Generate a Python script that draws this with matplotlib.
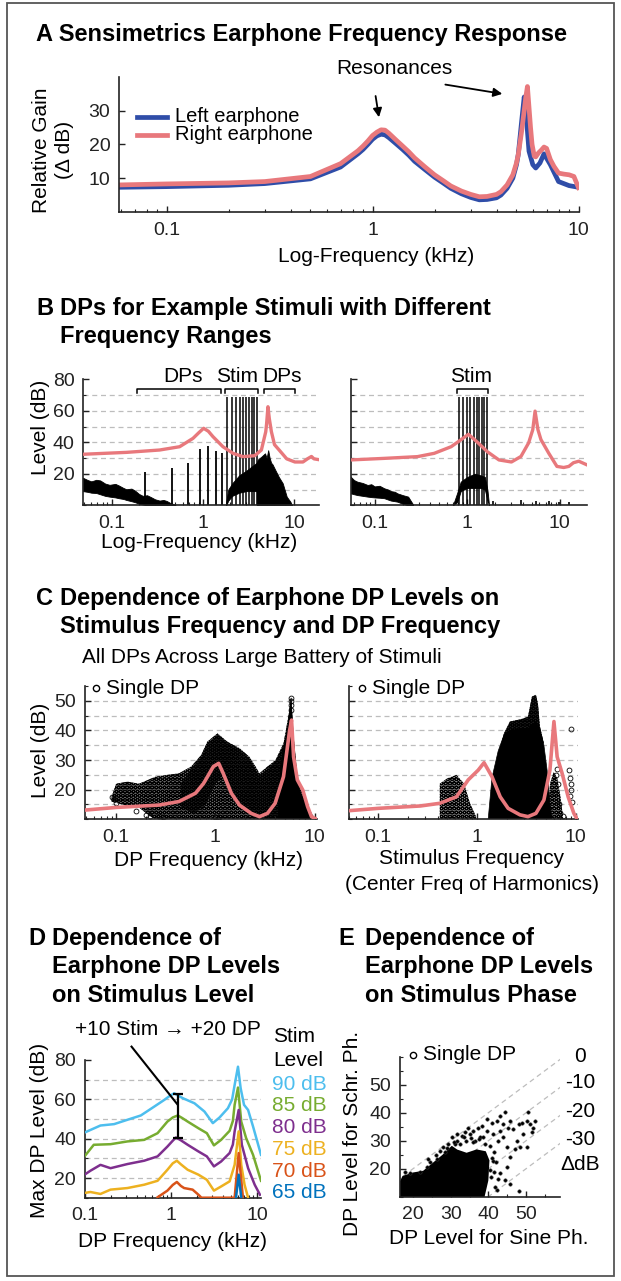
import numpy as np
import matplotlib
matplotlib.use("Agg")
import matplotlib.pyplot as plt
from matplotlib.lines import Line2D
from matplotlib.patches import Rectangle
from matplotlib.ticker import FixedLocator, LogLocator, NullFormatter, MultipleLocator

plt.rcParams['font.family'] = ['Liberation Sans', 'DejaVu Sans']
plt.rcParams['hatch.linewidth'] = 0.7

# ---------------- data ----------------
# A: earphone frequency response (kHz, relative gain dB)
a_left_freq = [0.0586, 0.1, 0.2, 0.3, 0.5, 0.7, 0.85, 0.9, 0.95, 1.0, 1.05, 1.1, 1.15, 1.2,
               1.3, 1.4, 1.5, 1.6, 1.8, 2.0, 2.2, 2.4, 2.7, 3.0, 3.3, 3.6, 4.0, 4.2, 4.5,
               4.8, 5.0, 5.1, 5.2, 5.3, 5.45, 5.55, 5.75, 6.0, 6.2, 6.5, 6.8, 7.3, 8.0,
               9.0, 10.0]
a_left_gain = [7.3, 7.5, 7.9, 8.4, 9.8, 13.3, 17.2, 18.5, 20.0, 21.5, 22.5, 23.0, 22.8, 22.0,
               20.2, 18.5, 16.8, 15.0, 12.5, 10.3, 8.6, 7.0, 5.4, 4.3, 3.6, 3.7, 4.2, 5.0, 7.0,
               10.0, 14.0, 17.0, 22.0, 27.0, 34.0, 30.0, 18.0, 14.0, 13.0, 14.5, 17.2, 14.0,
               9.0, 7.8, 7.3]
a_right_freq = [0.0586, 0.1, 0.2, 0.3, 0.5, 0.7, 0.85, 0.9, 0.95, 1.0, 1.05, 1.1, 1.15, 1.2,
                1.3, 1.4, 1.5, 1.6, 1.8, 2.0, 2.2, 2.4, 2.7, 3.0, 3.3, 3.6, 4.0, 4.2, 4.5,
                4.8, 5.0, 5.1, 5.3, 5.4, 5.55, 5.65, 5.75, 5.85, 5.95, 6.1, 6.2, 6.4, 6.6,
                6.8, 7.0, 7.3, 7.6, 8.0, 8.5, 9.0, 9.5, 10.0]
a_right_gain = [8.0, 8.3, 8.6, 9.0, 10.5, 14.3, 18.1, 19.5, 21.0, 22.6, 23.6, 24.3, 24.2, 23.3,
                21.3, 19.5, 17.8, 16.0, 13.3, 11.0, 9.3, 7.7, 6.2, 5.2, 4.5, 4.6, 5.2, 6.0, 8.0,
                11.0, 14.5, 17.0, 24.0, 28.0, 34.0, 37.1, 31.0, 25.0, 20.0, 16.5, 16.3, 17.5,
                18.3, 19.2, 18.8, 15.5, 13.5, 11.5, 11.2, 11.0, 10.5, 7.2]

# B left: stimulus with harmonics 1.84-3.91 kHz
bl_pink_freq = [0.0485, 0.145, 0.336, 0.557, 0.78, 0.9, 1.02, 1.15, 1.29, 1.66, 2.14, 2.75,
                3.7, 4.38, 4.89, 5.0, 5.17, 5.35, 5.64, 6.1, 7.0, 8.3, 10.2, 12.5, 14.0, 15.5,
                16.5, 18.6]
bl_pink_level = [32.4, 33.6, 35.1, 37.2, 42.5, 46.0, 48.9, 47.0, 43.6, 37.2, 33.0, 30.9,
                 31.5, 35.1, 46.7, 52.0, 62.6, 55.0, 46.7, 38.5, 34.5, 29.5, 27.5, 27.5, 29.5,
                 31.0, 29.5, 29.0]
bl_noise_freq = [0.0485, 0.055, 0.06, 0.068, 0.075, 0.085, 0.095, 0.11, 0.12, 0.135, 0.145,
                 0.165, 0.18, 0.2, 0.22, 0.245, 0.27, 0.3, 0.336, 0.37, 0.4, 0.44, 0.5]
bl_noise_hi = [17.5, 16.0, 15.2, 16.2, 15.8, 13.8, 13.0, 13.6, 12.6, 11.0, 10.2, 10.6, 9.4,
               7.2, 6.0, 6.4, 5.2, 3.8, 3.0, 3.4, 2.8, 1.5, 0.3]
bl_noise_lo = [9.0, 8.5, 8.0, 7.8, 7.0, 6.0, 5.5, 5.0, 4.5, 4.0, 3.4, 2.6, 2.0, 1.0, 0.5, 0,
               0, 0, 0, 0, 0, 0, 0]
bl_dp_freq = [0.23, 0.46, 0.69, 0.92, 1.15, 1.38, 1.61]
bl_dp_level = [21.3, 23.9, 26.7, 35.6, 37.7, 34.5, 33.4]
bl_stim_freq = [1.84, 2.07, 2.30, 2.53, 2.76, 2.99, 3.22, 3.45, 3.68, 3.91]
bl_stim_level = [69] * 10
bl_band_freq = [1.8, 1.9, 2.1, 2.5, 3.0, 3.5, 3.9, 4.0]
bl_band_hi = [2, 10, 14, 19, 22, 25, 27, 20]
bl_band_lo = [0, 3, 6, 8, 9, 9, 9, 0]
bl_dpband_freq = [3.9, 4.0, 4.4, 4.8, 5.0, 5.2, 5.4, 5.6, 5.8, 6.2, 6.8, 7.5, 8.3, 9.1, 9.5]
bl_dpband_hi = [27, 29, 31, 33, 30, 35, 30, 27, 26, 22.6, 18, 14, 5.5, 2.3, 0]
bl_brackets = [(0.19, 1.6), (1.77, 4.0), (4.66, 10.3)]
bl_bracket_labels = ['DPs', 'Stim', 'DPs']
bl_bracket_label_x = [0.6, 2.4, 7.3]

# B right: stimulus with harmonics 0.81-1.62 kHz
br_pink_freq = [0.055, 0.127, 0.29, 0.44, 0.67, 0.85, 1.03, 1.29, 1.65, 2.2, 3.0, 3.8, 4.6,
                5.1, 5.4, 5.8, 6.25, 7.6, 9.3, 11.0, 12.5, 14.0, 16.0, 19.4]
br_pink_level = [28.8, 29.8, 30.9, 33.0, 37.2, 41.5, 45.1, 40.0, 34.0, 28.8, 27.5, 31.0, 39.6,
                 48.0, 59.8, 48.0, 41.7, 33.0, 24.7, 24.0, 24.7, 27.0, 28.0, 25.8]
br_noise_freq = [0.055, 0.06, 0.065, 0.074, 0.084, 0.092, 0.1, 0.113, 0.127, 0.14, 0.15,
                 0.165, 0.176, 0.2, 0.23, 0.26]
br_noise_hi = [18.2, 16.0, 15.0, 14.2, 12.9, 13.4, 12.0, 12.4, 10.8, 10.0, 9.0, 8.6, 7.6, 6.5,
               5.5, 0.5]
br_noise_lo = [7.6, 7.0, 6.5, 6.0, 5.5, 5.2, 5.0, 4.8, 4.5, 3.6, 3.0, 2.6, 2.3, 1.0, 0, 0]
br_stim_freq = [0.81, 0.90, 0.99, 1.08, 1.17, 1.26, 1.35, 1.44, 1.53, 1.62]
br_stim_level = [69] * 10
br_band_freq = [0.70, 0.78, 0.85, 1.0, 1.2, 1.4, 1.55, 1.65, 1.72]
br_band_hi = [0, 8, 15, 18, 20, 19, 18, 10, 0]
br_band_lo = [0, 2, 9, 11, 11, 11, 10, 3, 0]
br_blip_freq = [1.9, 3.8, 5.5, 7.6, 9.8, 12.5]
br_blip_level = [3.0, 3.5, 2.5, 2.5, 2.0, 2.0]
br_bracket = (0.766, 1.69)

# C left: all DPs vs DP frequency
cl_pink_freq = [0.048, 0.1, 0.27, 0.43, 0.63, 0.76, 0.954, 1.08, 1.2, 1.45, 1.75, 2.3, 2.78,
                3.35, 4.0, 4.86, 5.6, 5.86, 6.14, 6.7, 7.6, 8.5, 9.3, 10.5]
cl_pink_level = [13.1, 14.0, 14.8, 16.0, 18.8, 22.1, 27.8, 28.9, 25.5, 18.8, 14.8, 12.0, 10.9,
                 12.0, 15.4, 24.4, 40.0, 43.5, 31.1, 23.3, 19.9, 14.3, 10.9, 10.0]
cl_cloud_f = [0.09, 0.1, 0.13, 0.17, 0.25, 0.33, 0.43, 0.57, 0.72, 0.83, 1.05, 1.32, 1.75, 2.2,
              2.54, 2.78, 3.35, 4.04, 4.86, 5.59, 5.8, 6.14, 6.73, 7.74, 9.33, 10.2,
              0.25, 0.22, 0.17, 0.13, 0.09]
cl_cloud_db = [17.6, 22.0, 22.7, 22.0, 24.4, 25.0, 25.5, 27.8, 31.7, 36.2, 39.0, 36.2, 34.0, 31.1,
               27.8, 25.5, 27.8, 30.0, 35.6, 46.9, 51.0, 37.9, 23.3, 17.6, 12.0, 10.0,
               10.0, 11.0, 14.0, 14.5, 16.0]
cl_dense_f = [0.45, 0.57, 0.72, 0.83, 1.05, 1.32, 1.75, 2.2, 2.5, 2.8, 3.35, 4.04, 4.86,
              5.0, 2.6, 2.0, 1.5, 1.2, 1.0, 0.8, 0.6, 0.45]
cl_dense_db = [22.0, 27.0, 31.0, 35.5, 38.5, 35.8, 33.5, 30.5, 27.0, 24.5, 27.0, 29.5, 35.0,
               10.0, 10.0, 14.0, 18.0, 25.0, 22.0, 15.0, 12.0, 14.0]
cl_solid_f = [4.3, 4.5, 4.86, 5.3, 5.59, 5.8, 6.0, 6.14, 6.73, 7.2, 7.74, 8.5, 9.33, 10.0]
cl_solid_db = [10.0, 27.0, 34.0, 40.0, 46.5, 51.0, 42.0, 37.0, 23.0, 19.0, 17.0, 14.0, 11.5, 10.0]
cl_out_f = [0.09, 0.095, 0.1, 0.16, 0.2, 0.22, 0.27, 0.3, 1.0, 1.1, 5.8, 5.8, 5.8, 5.8]
cl_out_db = [17.5, 16.8, 15.5, 12.8, 11.5, 11.0, 11.2, 10.8, 10.8, 10.8, 47.0, 48.5, 49.8, 51.0]

# C right: all DPs vs stimulus centre frequency
cr_pink_freq = [0.05, 0.1, 0.267, 0.42, 0.62, 0.815, 1.03, 1.18, 1.42, 1.72, 2.07, 2.73, 3.29,
                3.96, 4.77, 5.49, 6.03, 6.5, 7.3, 8.4, 9.6, 10.2]
cr_pink_level = [12.9, 13.7, 14.5, 15.4, 17.6, 23.3, 26.6, 29.1, 24.4, 17.6, 13.7, 11.5, 10.9,
                 12.0, 16.5, 26.6, 43.0, 31.1, 25.5, 17.6, 12.0, 10.5]
cr_low_f = [0.42, 0.5, 0.62, 0.74, 0.85, 0.98, 0.98, 0.42]
cr_low_db = [22.0, 23.8, 25.0, 22.0, 15.4, 10.9, 10.0, 10.0]
cr_main_f = [1.3, 1.42, 1.64, 1.88, 2.16, 2.73, 3.29, 3.6, 3.96, 4.35, 4.77, 5.14, 5.49, 5.75]
cr_main_db = [10.0, 24.0, 33.0, 38.5, 40.0, 40.5, 40.5, 42.0, 43.0, 40.0, 35.0, 26.6, 15.4, 10.0]
cr_fringe_f = [1.75, 1.88, 2.16, 2.73, 3.29, 3.61, 3.96, 4.15, 4.35, 4.77, 3.0, 2.0]
cr_fringe_db = [35.0, 39.0, 43.0, 43.7, 44.6, 51.4, 52.0, 49.0, 41.3, 35.6, 38.0, 35.0]
cr_tail_f = [5.2, 5.5, 6.0, 6.5, 7.0, 7.5]
cr_tail_db = [10.0, 22.0, 26.0, 24.0, 18.0, 10.0]
cr_out_f = [6.3, 6.6, 6.1, 6.8, 7.0, 8.6, 8.8, 8.9, 9.0, 8.7, 9.1, 8.9, 7.5, 6.5]
cr_out_db = [25.0, 22.0, 19.0, 15.0, 12.0, 26.5, 24.0, 22.0, 20.0, 18.0, 16.0, 40.5, 11.0, 27.0]

# D: max DP level vs DP frequency for each stimulus level
d_levels = ['90 dB', '85 dB', '80 dB', '75 dB', '70 dB', '65 dB']
d_colors = ['#4DBEEE', '#77AC30', '#7E2F8E', '#EDB120', '#D95319', '#0072BD']
d_freq = [[0.1, 0.153, 0.22, 0.313, 0.448, 0.64, 0.836, 0.95, 1.09, 1.2, 1.37, 1.87, 2.44,
           3.05, 3.65, 4.56, 5.1, 5.45, 5.96, 6.4, 7.0, 7.8, 8.9, 11.0],
          [0.1, 0.128, 0.2, 0.313, 0.49, 0.7, 0.91, 1.05, 1.2, 1.35, 1.56, 2.08, 2.6, 3.14,
           3.8, 4.77, 5.2, 5.45, 5.96, 6.5, 7.4, 8.9, 11.0],
          [0.1, 0.117, 0.153, 0.2, 0.313, 0.49, 0.7, 0.91, 1.05, 1.14, 1.3, 1.56, 2.08, 2.6,
           3.14, 3.8, 4.77, 5.2, 5.45, 6.07, 6.6, 7.8, 9.3, 10.7],
          [0.1, 0.117, 0.153, 0.2, 0.313, 0.49, 0.7, 0.91, 1.05, 1.17, 1.3, 1.56, 2.08, 2.6,
           3.14, 3.8, 4.77, 5.45, 6.07, 6.5, 7.1, 7.8],
          [0.7, 0.91, 1.05, 1.17, 1.3, 1.42, 1.78, 2.08, 2.25, 5.45, 6.07, 6.8],
          [5.65, 6.07, 6.5]]
d_level = [[43.1, 46.7, 47.4, 49.6, 51.8, 56.3, 59.7, 61.5, 63.1, 62.0, 60.6, 58.0, 53.8,
            47.9, 50.8, 55.5, 60.0, 67.3, 76.6, 65.6, 57.2, 54.6, 46.2, 31.8],
           [31.0, 36.9, 37.2, 38.6, 39.4, 42.8, 48.7, 50.8, 51.8, 50.5, 48.7, 45.3, 42.8, 36.6,
            39.4, 44.0, 49.0, 57.2, 66.0, 48.7, 40.3, 31.8, 18.6],
           [21.7, 23.7, 26.7, 25.0, 27.1, 28.8, 31.0, 36.0, 39.0, 40.6, 39.2, 36.9, 33.5, 31.0,
            25.9, 28.4, 32.7, 37.0, 43.7, 54.6, 36.9, 25.0, 16.6, 11.5],
           [12.4, 12.9, 11.9, 14.1, 14.9, 16.6, 18.6, 24.2, 27.5, 28.8, 27.0, 24.2, 21.7, 19.1,
            13.6, 15.7, 18.3, 26.7, 43.7, 26.7, 16.6, 10.0],
           [10.2, 13.6, 16.5, 18.0, 16.0, 14.9, 14.1, 11.5, 10.0, 10.0, 32.7, 10.0],
           [10.0, 21.7, 10.0]]
d_err_freq = 1.2
d_err_lo, d_err_hi = 40.6, 62.8

# E: DP level for Schroeder vs sine phase
e_offsets = [0, -10, -20, -30]
e_offset_labels = ['0', '-10', '-20', '-30', '\u0394dB']
e_dense_x = [16.1, 16.1, 17.4, 20.1, 22.8, 25.4, 28.0, 30.3, 31.6, 34.2, 36.9, 39.1, 40.0,
             39.7, 39.1, 38.7]
e_dense_y = [10.0, 13.5, 17.1, 18.3, 18.9, 21.8, 24.7, 27.7, 26.5, 25.3, 26.5, 25.9, 22.9,
             15.8, 12.3, 10.0]
e_pts_x = [27.1, 29.4, 30.3, 31.6, 33.0, 33.8, 35.1, 36.0, 37.3, 38.2, 39.5, 40.9, 42.2, 43.1,
           44.4, 44.0, 43.1, 41.3, 42.6, 44.0, 45.3, 45.7, 46.6, 48.0, 48.8, 50.2, 50.6, 51.1,
           51.9, 51.5, 52.4, 49.3, 47.5, 48.4, 50.2, 47.1, 44.8, 45.7, 44.8, 43.1, 44.4, 42.2,
           45.7, 48.0, 41.3, 40.4, 39.5, 37.7, 36.4, 21.9, 19.3, 17.9, 23.7, 24.6, 26.3, 28.5,
           28.0, 31.1, 31.6, 34.7, 32.5, 34.0, 36.0, 37.5, 39.0, 40.5, 41.5, 41.0, 42.0, 41.5,
           40.8, 42.5, 38.5, 35.5, 33.5, 30.8, 29.0, 26.0, 24.0, 41.8]
e_pts_y = [26.5, 28.9, 31.2, 30.0, 31.8, 33.0, 32.4, 33.6, 34.5, 35.4, 37.7, 36.5, 37.1, 38.9,
           40.1, 35.9, 33.6, 32.4, 30.0, 31.2, 34.7, 37.1, 34.1, 35.9, 36.5, 37.1, 40.1, 35.9,
           34.7, 33.0, 37.1, 32.4, 30.0, 27.7, 27.7, 27.1, 27.7, 24.1, 20.6, 18.3, 15.8, 12.3,
           14.7, 12.1, 22.9, 19.4, 33.6, 31.2, 30.0, 18.9, 18.3, 18.9, 20.6, 22.4, 23.6, 25.9,
           27.7, 28.9, 32.4, 34.7, 29.0, 29.8, 29.5, 30.5, 29.0, 28.0, 26.0, 24.0, 22.5, 19.0,
           17.0, 16.5, 31.5, 31.0, 31.5, 29.5, 27.5, 25.0, 23.5, 13.5]

# ---------------- layout (pixels) ----------------
W, H = 621, 1281
PINK = '#E8787C'
BLUE = '#2F4DA8'
GRID = '#BDBDBD'
TICK_FS = 14
LABEL_FS = 15
TITLE_FS = 17

fig = plt.figure(figsize=(W / 100, H / 100), dpi=100)
fig.patch.set_facecolor('white')


def fx(x):
    return x / W


def fy(y):
    return 1 - y / H


def ftext(x, y, s, **kw):
    kw.setdefault('fontsize', LABEL_FS)
    kw.setdefault('va', 'center')
    return fig.text(fx(x), fy(y), s, **kw)


def make_axes(l, t, r, b):
    ax = fig.add_axes([fx(l), fy(b), (r - l) / W, (b - t) / H])
    for side in ('top', 'right'):
        ax.spines[side].set_visible(False)
    for side in ('left', 'bottom'):
        ax.spines[side].set_linewidth(1.2)
        ax.spines[side].set_color('#222222')
    ax.tick_params(which='both', direction='in', labelsize=TICK_FS, colors='#222222')
    ax.tick_params(axis='x', pad=7)
    ax.tick_params(axis='y', pad=6)
    ax.tick_params(which='major', length=4, width=1)
    ax.tick_params(which='minor', length=2.5, width=0.8)
    ax.patch.set_alpha(0)
    return ax


def log_x(ax, lo, hi):
    ax.set_xscale('log')
    ax.set_xlim(lo, hi)
    ax.xaxis.set_major_locator(FixedLocator([0.1, 1, 10]))
    ax.set_xticklabels(['0.1', '1', '10'])
    ax.xaxis.set_minor_locator(LogLocator(base=10, subs=np.arange(2, 10), numticks=30))
    ax.xaxis.set_minor_formatter(NullFormatter())


def grid_lines(ax, levels):
    for lv in levels:
        ax.axhline(lv, color=GRID, lw=0.9, ls=(0, (4, 3)), zorder=0)


def single_dp(x, y):
    fig.add_artist(Line2D([fx(x)], [fy(y)], marker='o', ms=4.5, mfc='none', mec='black',
                          mew=1.0, transform=fig.transFigure))
    ftext(x + 10, y, 'Single DP', ha='left')


# frame round the whole figure
fig.add_artist(Rectangle((fx(7), fy(1276)), (614 - 7) / W, (1276 - 3) / H, fill=False,
                         edgecolor='#555555', lw=1.3, transform=fig.transFigure))

# ---------------- panel A ----------------
ftext(36, 35, 'A Sensimetrics Earphone Frequency Response', fontsize=TITLE_FS,
      fontweight='bold', ha='left')
ax = make_axes(118.7, 76.7, 578.5, 212)
log_x(ax, 0.0586, 10)
ax.set_ylim(0, 40)
ax.set_yticks([10, 20, 30])
ax.plot(a_left_freq, a_left_gain, color=BLUE, lw=3.4, solid_joinstyle='round')
ax.plot(a_right_freq, a_right_gain, color=PINK, lw=3.4, solid_joinstyle='round')
ax.annotate('', xy=(1.08, 27.2), xytext=(1.03, 35.1),
            arrowprops=dict(arrowstyle='-|>', color='black', lw=1.3, mutation_scale=13))
ax.annotate('', xy=(4.4, 34.8), xytext=(2.19, 37.8),
            arrowprops=dict(arrowstyle='-|>', color='black', lw=1.3, mutation_scale=13))
ftext(394, 68, 'Resonances', ha='center')
fig.add_artist(Line2D([fx(137), fx(167)], [fy(116.7)] * 2, color=BLUE, lw=3.4,
                      transform=fig.transFigure))
fig.add_artist(Line2D([fx(137), fx(167)], [fy(135)] * 2, color=PINK, lw=3.4,
                      transform=fig.transFigure))
ftext(175, 116.7, 'Left earphone', ha='left', fontsize=14.5)
ftext(175, 135, 'Right earphone', ha='left', fontsize=14.5)
ftext(376.5, 257, 'Log-Frequency (kHz)', ha='center')
ftext(53, 150, 'Relative Gain\n(\u0394 dB)', ha='center', rotation=90, linespacing=1.25)

# ---------------- panel B ----------------
ftext(36, 308.3, 'B', fontsize=TITLE_FS, fontweight='bold', ha='left')
ftext(59.8, 308.3, 'DPs for Example Stimuli with Different', fontsize=TITLE_FS,
      fontweight='bold', ha='left')
ftext(59.8, 336.7, 'Frequency Ranges', fontsize=TITLE_FS, fontweight='bold', ha='left')


def panel_b(ax, pink_f, pink_l, noise_f, noise_hi, noise_lo, stim_f, stim_l,
            band_f, band_hi, band_lo):
    ax.set_ylim(0, 80)
    ax.set_yticks([20, 40, 60, 80])
    ax.yaxis.set_minor_locator(MultipleLocator(10))
    grid_lines(ax, range(10, 80, 10))
    ax.fill_between(noise_f, noise_lo, noise_hi, color='black', lw=0.6, zorder=2)
    ax.fill_between(band_f, band_lo, band_hi, color='black', lw=0.6, zorder=2)
    ax.vlines(stim_f, 0, stim_l, color='black', lw=1.1, zorder=2)
    ax.plot(pink_f, pink_l, color=PINK, lw=2.4, zorder=4, solid_joinstyle='round')


axb1 = make_axes(82.9, 379.3, 318.7, 505.3)
log_x(axb1, 0.0485, 18.6)
panel_b(axb1, bl_pink_freq, bl_pink_level, bl_noise_freq, bl_noise_hi, bl_noise_lo,
        bl_stim_freq, bl_stim_level, bl_band_freq, bl_band_hi, bl_band_lo)
axb1.vlines(bl_dp_freq, 0, bl_dp_level, color='black', lw=1.3, zorder=2)
axb1.fill_between(bl_dpband_freq, 0, bl_dpband_hi, color='black', lw=0.6, zorder=2)
for (f0, f1), lab, lx in zip(bl_brackets, bl_bracket_labels, bl_bracket_label_x):
    axb1.plot([f0, f0, f1, f1], [71.5, 74, 74, 71.5], color='black', lw=1.1, clip_on=False)
    axb1.text(lx, 82, lab, ha='center', va='center', fontsize=LABEL_FS, clip_on=False)

axb2 = make_axes(350.6, 379.3, 586.5, 505.3)
log_x(axb2, 0.055, 19.4)
panel_b(axb2, br_pink_freq, br_pink_level, br_noise_freq, br_noise_hi, br_noise_lo,
        br_stim_freq, br_stim_level, br_band_freq, br_band_hi, br_band_lo)
axb2.vlines(br_blip_freq, 0, br_blip_level, color='black', lw=1.2, zorder=2)
axb2.set_yticklabels([])
f0, f1 = br_bracket
axb2.plot([f0, f0, f1, f1], [71.5, 74, 74, 71.5], color='black', lw=1.1, clip_on=False)
axb2.text(1.1, 82, 'Stim', ha='center', va='center', fontsize=LABEL_FS, clip_on=False)
ftext(199, 543, 'Log-Frequency (kHz)', ha='center')
ftext(40, 427, 'Level (dB)', ha='center', rotation=90)

# ---------------- panel C ----------------
ftext(36, 598.3, 'C', fontsize=TITLE_FS, fontweight='bold', ha='left')
ftext(59.8, 598.3, 'Dependence of Earphone DP Levels on', fontsize=TITLE_FS,
      fontweight='bold', ha='left')
ftext(59.8, 626.7, 'Stimulus Frequency and DP Frequency', fontsize=TITLE_FS,
      fontweight='bold', ha='left')
ftext(81.7, 657.3, 'All DPs Across Large Battery of Stimuli', ha='left')


def panel_c(ax):
    ax.set_ylim(10, 55)
    ax.set_yticks([20, 30, 40, 50])
    ax.yaxis.set_minor_locator(MultipleLocator(5))
    grid_lines(ax, range(15, 55, 5))


axc1 = make_axes(84.5, 686, 316.7, 819.3)
log_x(axc1, 0.048, 10.5)
panel_c(axc1)
axc1.fill(cl_cloud_f, cl_cloud_db, facecolor='#6E6E6E', edgecolor='black', hatch='OOOO', lw=0,
          zorder=1)
axc1.fill(cl_dense_f, cl_dense_db, facecolor='#1E1E1E', edgecolor='black', hatch='OOOO', lw=0,
          zorder=1.5)
axc1.fill(cl_solid_f, cl_solid_db, facecolor='black', edgecolor='black', lw=0.5, zorder=2)
axc1.plot(cl_out_f, cl_out_db, 'o', ms=3.5, mfc='none', mec='black', mew=0.6, zorder=2)
axc1.plot(cl_pink_freq, cl_pink_level, color=PINK, lw=2.6, zorder=4, solid_joinstyle='round')
single_dp(95.5, 688)
ftext(209, 860, 'DP Frequency (kHz)', ha='center')
ftext(40, 750, 'Level (dB)', ha='center', rotation=90)

axc2 = make_axes(348.6, 686, 577.7, 819.3)
log_x(axc2, 0.05, 10.5)
panel_c(axc2)
axc2.set_yticklabels([])
axc2.fill(cr_low_f, cr_low_db, facecolor='#8C8C8C', edgecolor='black', hatch='OOOO', lw=0,
          zorder=1)
axc2.fill(cr_tail_f, cr_tail_db, facecolor='#8C8C8C', edgecolor='black', hatch='OOOO', lw=0,
          zorder=1)
axc2.fill(cr_fringe_f, cr_fringe_db, facecolor='#1E1E1E', edgecolor='black', hatch='OOOO', lw=0,
          zorder=1.5)
axc2.fill(cr_main_f, cr_main_db, facecolor='black', edgecolor='black', lw=0.5, zorder=2)
axc2.plot(cr_out_f, cr_out_db, 'o', ms=3.5, mfc='none', mec='black', mew=0.6, zorder=2)
axc2.plot(cr_pink_freq, cr_pink_level, color=PINK, lw=2.6, zorder=4, solid_joinstyle='round')
single_dp(361.7, 688)
ftext(472, 859, 'Stimulus Frequency', ha='center')
ftext(472, 885, '(Center Freq of Harmonics)', ha='center')

# ---------------- panel D ----------------
ftext(28, 938.3, 'D', fontsize=TITLE_FS, fontweight='bold', ha='left')
for i, line in enumerate(['Dependence of', 'Earphone DP Levels', 'on Stimulus Level']):
    ftext(51.8, 938.3 + 28.4 * i, line, fontsize=TITLE_FS, fontweight='bold', ha='left')

axd = make_axes(84.5, 1060, 261, 1197.7)
log_x(axd, 0.1, 11)
axd.set_ylim(10, 80)
axd.set_yticks([20, 40, 60, 80])
axd.yaxis.set_minor_locator(MultipleLocator(10))
grid_lines(axd, range(20, 80, 10))
for f, lv, c in zip(d_freq, d_level, d_colors):
    axd.plot(f, lv, color=c, lw=1.8, zorder=3, solid_joinstyle='round')
axd.errorbar([d_err_freq], [(d_err_lo + d_err_hi) / 2], yerr=[(d_err_hi - d_err_lo) / 2],
             color='black', lw=1.6, capsize=3.5, capthick=1.6, zorder=5)
axd.plot([0.35, 1.18], [86.8, 57.6], color='black', lw=1.5, clip_on=False, zorder=5)
axd.text(0.92, 95.3, '+10 Stim \u2192 +20 DP', ha='center', va='center', fontsize=LABEL_FS,
         clip_on=False)
ftext(273, 1036.7, 'Stim', ha='left')
ftext(273, 1060, 'Level', ha='left')
for i, (lab, c) in enumerate(zip(d_levels, d_colors)):
    ftext(272, 1084 + 21.8 * i, lab, ha='left', color=c)
ftext(173, 1241.7, 'DP Frequency (kHz)', ha='center')
ftext(40, 1130, 'Max DP Level (dB)', ha='center', rotation=90)

# ---------------- panel E ----------------
ftext(338.6, 938.3, 'E', fontsize=TITLE_FS, fontweight='bold', ha='left')
for i, line in enumerate(['Dependence of', 'Earphone DP Levels', 'on Stimulus Phase']):
    ftext(364.5, 938.3 + 28.4 * i, line, fontsize=TITLE_FS, fontweight='bold', ha='left')

axe = make_axes(399.5, 1056.7, 560, 1196.7)
axe.set_xlim(16.4, 59)
axe.set_ylim(10, 60)
axe.set_xticks([20, 30, 40, 50])
axe.set_yticks([20, 30, 40, 50])
axe.xaxis.set_minor_locator(MultipleLocator(5))
axe.yaxis.set_minor_locator(MultipleLocator(5))
diag = np.array([10, 60])
for off in e_offsets:
    axe.plot(diag, diag + off, color=GRID, lw=0.9, ls=(0, (4, 3)), zorder=0)
axe.fill(e_dense_x, e_dense_y, facecolor='black', edgecolor='black', lw=1.5, zorder=2)
axe.scatter(e_pts_x, e_pts_y, s=6, color='black', edgecolors='#333333', linewidths=0.4, zorder=3)
single_dp(413.3, 1055)
for lab, yy in zip(e_offset_labels, [1056.7, 1083, 1111.5, 1139.3, 1165]):
    ftext(580, yy, lab, ha='center')
ftext(489, 1238.3, 'DP Level for Sine Ph.', ha='center')
ftext(352.6, 1133, 'DP Level for Schr. Ph.', ha='center', rotation=90)

fig.savefig('out.png', dpi=100)
